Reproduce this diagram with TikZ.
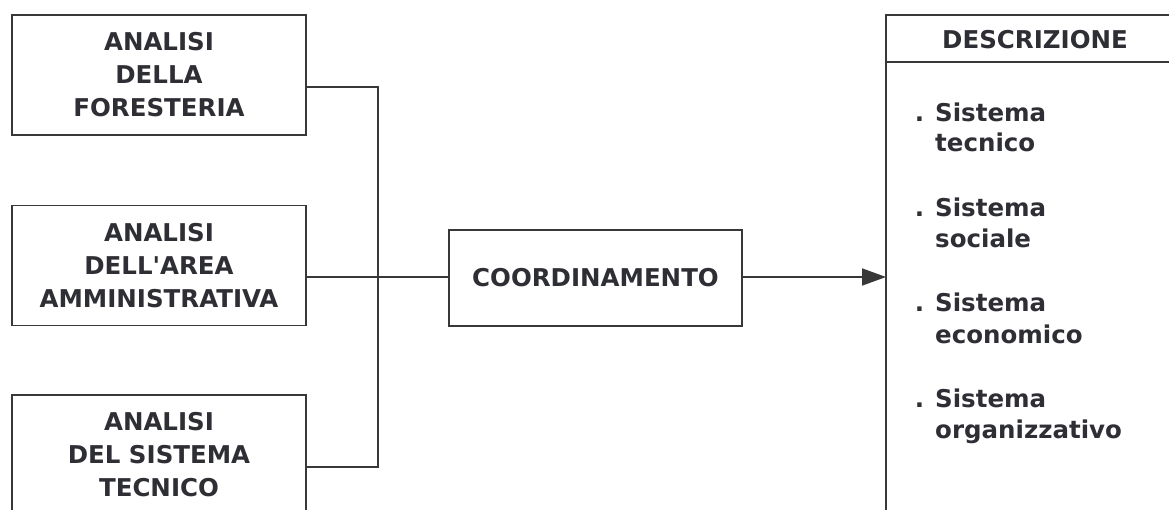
\documentclass[tikz,border=0pt]{standalone}
\usepackage{fontspec}
\setmainfont{DejaVu Sans}[Ligatures=TeXOff]
\usetikzlibrary{arrows.meta}
\definecolor{ink}{HTML}{2E2E35}
\definecolor{ln}{HTML}{383838}
\begin{document}
\begin{tikzpicture}[x=1pt,y=-1pt,
  ln/.style={draw=ln,line width=1.8pt},
  bigtxt/.style={text=ink,font=\fontsize{24.5}{33}\selectfont\bfseries,align=center},
  leftbox/.style={ln,bigtxt,minimum width=294pt,minimum height=120pt,inner sep=0pt},
  itemtxt/.style={text=ink,font=\fontsize{24.5}{30}\selectfont\bfseries,anchor=base west,inner sep=0pt}
]
\path[use as bounding box,clip] (0,0) rectangle (1169,510);
\fill[white] (0,0) rectangle (1169,510);

\node[leftbox] (a1) at (159,75) {ANALISI\\DELLA\\FORESTERIA};
\node[leftbox] (a2) at (159,265.5) {ANALISI\\DELL'AREA\\AMMINISTRATIVA};
\node[leftbox] (a3) at (159,455) {ANALISI\\DEL SISTEMA\\TECNICO};

\node[ln,bigtxt,minimum width=293pt,minimum height=96pt,inner sep=0pt] (co) at (595.5,278) {COORDINAMENTO};

\coordinate (j) at (378,277);
\coordinate (rt) at (886,15);
\coordinate (rb) at (886,520);
\coordinate (rr) at (1175,15);
\coordinate (dl) at (886,62);
\coordinate (dr) at (1175,62);
\coordinate (tip) at (886,277);

\draw[ln] ([yshift=-12pt]a1.east) -| (j);
\draw[ln] ([yshift=-12pt]a3.east) -| (j);
\draw[ln] (a2.east |- j) -- (j) -- (co.west |- j);
\draw[ln,-{Triangle[length=24pt,width=17pt]}] (co.east |- tip) -- (tip);

\draw[ln] (rr) -- (rt) -- (rb);
\draw[ln] (dl) -- (dr);

\node[bigtxt,anchor=west,inner sep=0pt] (dh) at (942,40) {DESCRIZIONE};

\node[itemtxt] (i1a) at (935,122) {\llap{.\hspace{11pt}}Sistema};
\node[itemtxt] (i1b) at (935,152) {tecnico};
\node[itemtxt] (i2a) at (935,217) {\llap{.\hspace{11pt}}Sistema};
\node[itemtxt] (i2b) at (935,248) {sociale};
\node[itemtxt] (i3a) at (935,312) {\llap{.\hspace{11pt}}Sistema};
\node[itemtxt] (i3b) at (935,343) {economico};
\node[itemtxt] (i4a) at (935,407) {\llap{.\hspace{11pt}}Sistema};
\node[itemtxt] (i4b) at (935,438) {organizzativo};
\end{tikzpicture}
\end{document}
